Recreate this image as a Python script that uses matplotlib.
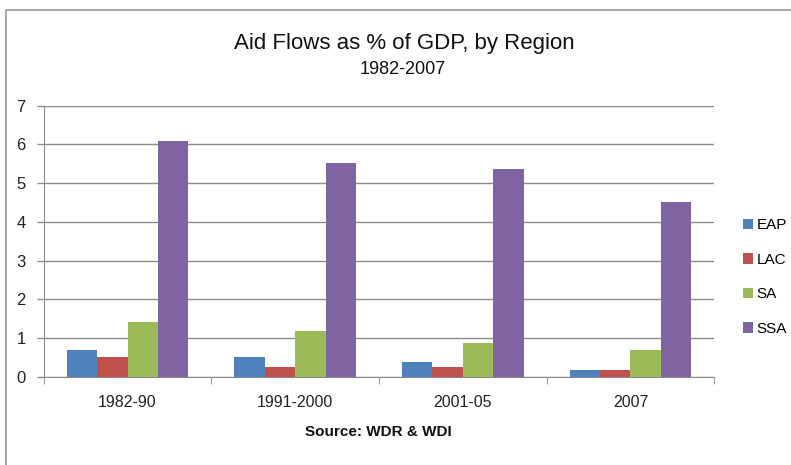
import matplotlib
matplotlib.use("Agg")
import matplotlib.pyplot as plt
import numpy as np
from matplotlib.patches import Rectangle

plt.rcParams['font.family'] = ['Liberation Sans', 'DejaVu Sans']

categories = ["1982-90", "1991-2000", "2001-05", "2007"]
series_names = ["EAP", "LAC", "SA", "SSA"]
EAP = [0.69, 0.50, 0.39, 0.18]
LAC = [0.50, 0.26, 0.26, 0.18]
SA = [1.41, 1.18, 0.88, 0.68]
SSA = [6.10, 5.51, 5.36, 4.50]
colors = ["#4F81BD", "#C0504D", "#9BBB59", "#8064A2"]

fig = plt.figure(figsize=(7.91, 4.65), dpi=100)
fig.patch.set_facecolor("white")

# outer chart frame
fig.add_artist(Rectangle((6/791, -0.05), 1.2, 1 - 10/465 + 0.05, transform=fig.transFigure,
                         fill=False, edgecolor="#9a9a9a", linewidth=1.2))

ax = fig.add_axes([43.7/791, 1 - 376.7/465, (714.3 - 43.7)/791, (376.7 - 105.7)/465])
x = np.arange(len(categories))
w = 1 / 5.5
for i, (name, vals) in enumerate(zip(series_names, [EAP, LAC, SA, SSA])):
    ax.bar(x + (i - 1.5) * w, vals, width=w, color=colors[i], label=name, zorder=3)

ax.set_xlim(-0.5, len(categories) - 0.5)
ax.set_ylim(0, 7)
ax.set_yticks(range(0, 8))
ax.yaxis.grid(True, color="#8c8c8c", linewidth=1, zorder=0)
ax.set_xticks(x)
ax.set_xticklabels(categories)
ax.set_xticks(np.arange(-0.5, len(categories)), minor=True)
ax.tick_params(axis="x", which="major", length=0, pad=13, labelsize=11.5, colors="#222222")
ax.tick_params(axis="x", which="minor", length=5, color="#8c8c8c")
ax.tick_params(axis="y", length=5, width=1, color="#8c8c8c", pad=8, labelsize=12,
               labelcolor="#222222")
for s in ["top", "right"]:
    ax.spines[s].set_visible(False)
ax.spines["left"].set_color("#8c8c8c")
ax.spines["bottom"].set_color("#8c8c8c")

fig.text(404/791, 1 - 43/465, "Aid Flows as % of GDP, by Region", ha="center", va="center",
         fontsize=16, color="#111111")
fig.text(403/791, 1 - 69/465, "1982-2007", ha="center", va="center",
         fontsize=13, color="#111111")
fig.text(378/791, 1 - 432/465, "Source: WDR & WDI", ha="center", va="center",
         fontsize=11, fontweight="bold", color="#111111")

ax.legend(loc="center left", bbox_to_anchor=((742.5 - 43.7) / (714.3 - 43.7), 0.368),
          frameon=False, fontsize=11, borderaxespad=0, borderpad=0,
          handlelength=0.7, handleheight=0.7, handletextpad=0.2, labelspacing=1.34)

fig.savefig("out.png", dpi=100)
